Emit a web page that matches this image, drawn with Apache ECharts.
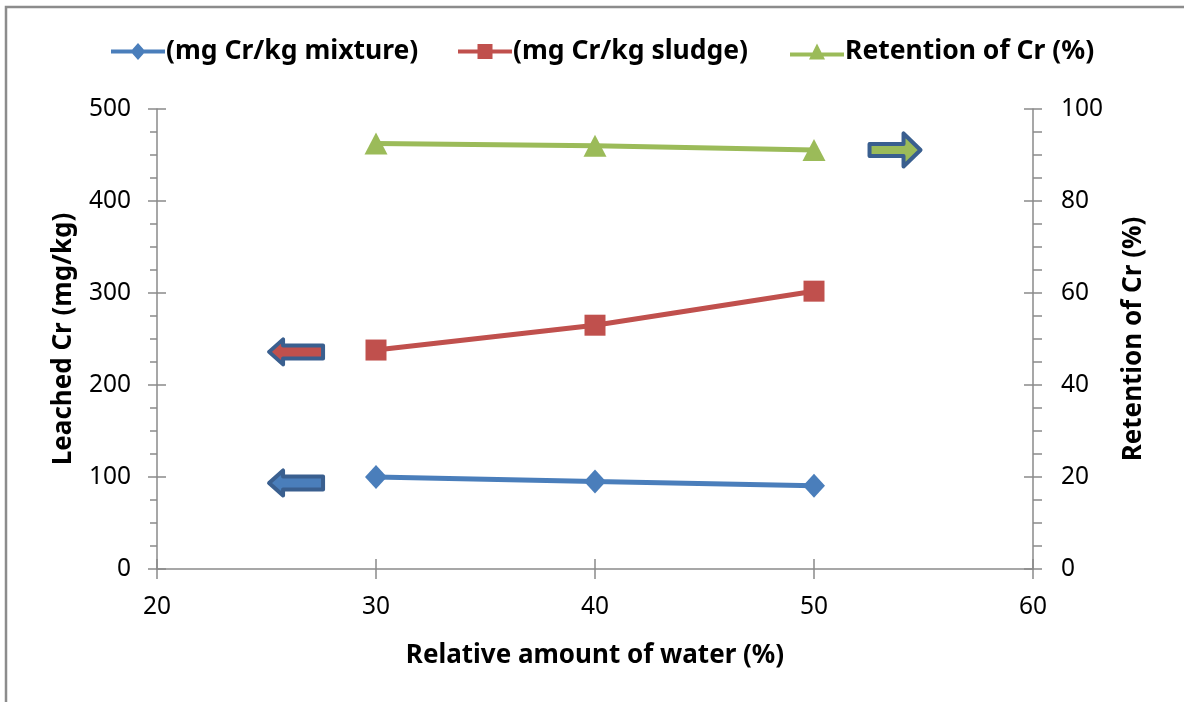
<!DOCTYPE html>
<html>
<head>
<meta charset="utf-8">
<style>
html,body{margin:0;padding:0;background:#fff;}
#chart{width:1184px;height:702px;}
</style>
<script src="https://cdn.jsdelivr.net/npm/echarts@6/dist/echarts.min.js"></script>
</head>
<body>
<div id="chart"></div>
<script>
// ---- data ----
const waterPct = [30, 40, 50];
const crMixture = [100, 95, 90.5];
const crSludge = [238, 265, 302];
const retentionCr = [92.5, 92.0, 91.1];
const seriesNames = ['(mg Cr/kg mixture)', '(mg Cr/kg sludge)', 'Retention of Cr (%)'];
const xName = 'Relative amount of water (%)';
const yLeftName = 'Leached Cr (mg/kg)';
const yRightName = 'Retention of Cr (%)';
// annotation arrows: [x, y, axis ('left'/'right'), direction, series index]
const arrowNotes = [
  [26.35, 236, 'left', 'left', 1],
  [26.35, 93.5, 'left', 'left', 0],
  [53.7, 91.1, 'right', 'right', 2]
];

const colors = ['#4A7EBB', '#C0504D', '#9BBB59'];
const FONT = '"Noto Sans", "Open Sans", sans-serif';
const axisGray = '#8a8a8a';

function pairs(xs, ys) { return xs.map((x, i) => [x, ys[i]]); }

const chart = echarts.init(document.getElementById('chart'), null, {renderer: 'canvas'});

// legend icons: thick line with the series marker
const legendIcons = [
  'path://M0,6.5L54,6.5L54,10.5L0,10.5Z M27,0L34.5,8.5L27,17L19.5,8.5Z',
  'path://M0,5.5L54,5.5L54,9.5L0,9.5Z M19.5,0L34.5,0L34.5,15L19.5,15Z',
  'path://M0,9L54,9L54,13L0,13Z M27,0L35,16L19,16Z'
];
const legendIconH = [17, 15, 16];
const legendLefts = [106, 453, 785];
const legends = seriesNames.map((n, i) => ({
  data: [{name: n, icon: legendIcons[i]}],
  left: legendLefts[i],
  top: 33,
  itemWidth: 54,
  itemHeight: legendIconH[i],
  itemGap: 0,
  symbolKeepAspect: false,
  textStyle: {fontFamily: FONT, fontWeight: 'bold', fontSize: 26.5, color: '#000', padding: [0, 0, 0, -4]},
  selectedMode: false
}));

const tickLabel = {fontFamily: FONT, fontSize: 24.5, color: '#000'};
const nameStyle = {fontFamily: FONT, fontSize: 26, fontWeight: 'bold', color: '#000'};

const option = {
  backgroundColor: '#fff',
  animation: false,
  color: colors,
  legend: legends,
  grid: {left: 157, right: 151, top: 109, bottom: 133, containLabel: false},
  xAxis: [
    {
      type: 'value', min: 20, max: 60, interval: 10,
      name: xName, nameLocation: 'middle', nameGap: 74, nameTextStyle: nameStyle,
      axisLine: {show: true, lineStyle: {color: axisGray, width: 1.5}},
      axisTick: {show: true, inside: false, length: 10, lineStyle: {color: axisGray, width: 1.5}},
      axisLabel: Object.assign({margin: 26}, tickLabel),
      splitLine: {show: false}
    },
    {
      type: 'value', min: 20, max: 60, interval: 10, position: 'bottom', offset: 0,
      axisLine: {show: false},
      axisTick: {show: true, inside: true, length: 10, lineStyle: {color: axisGray, width: 1.5}},
      axisLabel: {show: false},
      splitLine: {show: false}
    }
  ],
  yAxis: [
    {
      type: 'value', min: 0, max: 500, interval: 100, position: 'left',
      name: yLeftName, nameLocation: 'middle', nameGap: 80, nameRotate: 90, nameTextStyle: nameStyle,
      axisLine: {show: true, lineStyle: {color: axisGray, width: 1.5}},
      axisTick: {show: true, inside: false, length: 9, lineStyle: {color: axisGray, width: 1.5}},
      minorTick: {show: true, splitNumber: 4, length: 7, lineStyle: {color: axisGray, width: 1.5}},
      axisLabel: Object.assign({margin: 26}, tickLabel),
      splitLine: {show: false}
    },
    {
      type: 'value', min: 0, max: 100, interval: 20, position: 'right',
      name: yRightName, nameLocation: 'middle', nameGap: 88, nameRotate: 90, nameTextStyle: nameStyle,
      axisLine: {show: true, lineStyle: {color: axisGray, width: 1.5}},
      axisTick: {show: true, inside: false, length: 9, lineStyle: {color: axisGray, width: 1.5}},
      minorTick: {show: true, splitNumber: 4, length: 9, lineStyle: {color: axisGray, width: 1.5}},
      axisLabel: Object.assign({margin: 28}, tickLabel),
      splitLine: {show: false}
    },
    {
      type: 'value', min: 0, max: 500, interval: 100, position: 'left', offset: 0,
      axisLine: {show: false},
      axisTick: {show: true, inside: true, length: 9, lineStyle: {color: axisGray, width: 1.5}},
      axisLabel: {show: false},
      splitLine: {show: false}
    },
    {
      type: 'value', min: 0, max: 100, interval: 20, position: 'right', offset: 0,
      axisLine: {show: false},
      axisTick: {show: true, inside: true, length: 9, lineStyle: {color: axisGray, width: 1.5}},
      axisLabel: {show: false},
      splitLine: {show: false}
    }
  ],
  series: [
    {
      name: seriesNames[0], type: 'line', xAxisIndex: 0, yAxisIndex: 0,
      data: pairs(waterPct, crMixture),
      symbol: 'diamond', symbolSize: [22, 24],
      lineStyle: {width: 5, color: colors[0]},
      itemStyle: {color: colors[0]}
    },
    {
      name: seriesNames[1], type: 'line', xAxisIndex: 0, yAxisIndex: 0,
      data: pairs(waterPct, crSludge),
      symbol: 'rect', symbolSize: 21,
      lineStyle: {width: 5, color: colors[1]},
      itemStyle: {color: colors[1]}
    },
    {
      name: seriesNames[2], type: 'line', xAxisIndex: 0, yAxisIndex: 1,
      data: pairs(waterPct, retentionCr),
      symbol: 'triangle', symbolSize: [23, 22],
      lineStyle: {width: 5, color: colors[2]},
      itemStyle: {color: colors[2]}
    }
  ]
};

chart.setOption(option);

function arrowPoints(cx, cy, dir, L, hh, st, hl) {
  const s = dir === 'left' ? 1 : -1;
  const x0 = cx - s * L / 2; // tip
  const x1 = cx + s * L / 2; // tail
  const xh = x0 + s * hl;
  return [[x0, cy], [xh, cy - hh], [xh, cy - st], [x1, cy - st], [x1, cy + st], [xh, cy + st], [xh, cy + hh]];
}

const graphics = [{
  type: 'rect', silent: true, z: 100,
  shape: {x: 6, y: 7, width: 1250, height: 760},
  style: {fill: 'none', stroke: '#8c8c8c', lineWidth: 2.5}
}];
arrowNotes.forEach(a => {
  const yIdx = a[2] === 'left' ? 0 : 1;
  const p = chart.convertToPixel({xAxisIndex: 0, yAxisIndex: yIdx}, [a[0], a[1]]);
  const big = a[3] === 'right';
  const pts = big ? arrowPoints(p[0], p[1], a[3], 51, 16.5, 6, 17) : arrowPoints(p[0], p[1], a[3], 54, 12.5, 6.5, 14);
  graphics.push({
    type: 'polygon', silent: true, z: 50,
    shape: {points: pts},
    style: {fill: colors[a[4]], stroke: '#3A5F8F', lineWidth: 4, lineJoin: 'round'}
  });
});
chart.setOption({graphic: graphics});
</script>
</body>
</html>
